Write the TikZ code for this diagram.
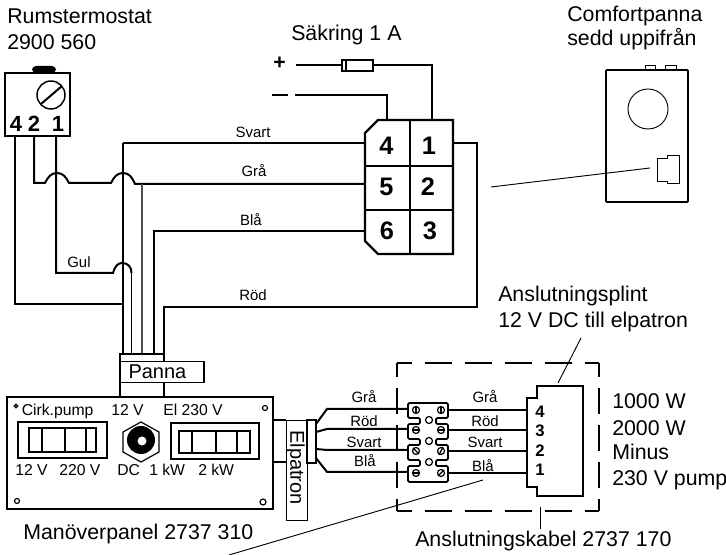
\documentclass[tikz,border=0pt]{standalone}
\usepackage{fontspec}
\setmainfont{Liberation Sans}
\tikzset{
  stor/.style={font=\fontsize{16}{16}\selectfont,anchor=base west,inner sep=0pt},
  liten/.style={font=\fontsize{11.2}{11.2}\selectfont,anchor=base,inner sep=0pt},
  panel/.style={font=\fontsize{11.8}{11.8}\selectfont,anchor=base west,inner sep=0pt},
  siffra/.style={font=\bfseries\fontsize{16.5}{16.5}\selectfont,anchor=base,inner sep=0pt},
  storsiffra/.style={font=\bfseries\fontsize{19}{19}\selectfont,anchor=base,inner sep=0pt},
  litensiffra/.style={font=\bfseries\fontsize{12.5}{12.5}\selectfont,anchor=base,inner sep=0pt},
  ledning/.style={line width=1.5pt,line join=miter},
  tunn/.style={line width=0.9pt},
  pekare/.style={line width=0.7pt},
  streckh/.style={line width=1.9pt,dash pattern=on 20.25pt off 9.75pt,dash phase=9.75pt},
  streckv/.style={line width=1.9pt,dash pattern=on 19.5pt off 8.25pt,dash phase=9pt},
  skruv/.style={line width=0.9pt,fill=white}
}
\begin{document}
\begin{tikzpicture}[x=0.75pt,y=-0.75pt]
  \useasboundingbox (0,0) rectangle (726,555);

  % Rubriker
  \node[stor] (rubrikT) at (7,24) {Rumstermostat};
  \node[stor] (rubrikTnr) at (7,50) {2900 560};
  \node[stor] (rubrikS) at (291,40.5) {Säkring 1 A};
  \node[stor] (rubrikC) at (567,21.5) {Comfortpanna};
  \node[stor] (rubrikCs) at (567,45.5) {sedd uppifrån};
  \node[stor] (rubrikA) at (498,301.5) {Anslutningsplint};
  \node[stor] (rubrikAs) at (498,328) {12 V DC till elpatron};
  \node[stor] (rubrikM) at (23,540) {Manöverpanel 2737 310};
  \node[stor] (rubrikK) at (415,547) {Anslutningskabel 2737 170};
  \node[stor] (eff1) at (612,409) {1000 W};
  \node[stor] (eff2) at (612,436) {2000 W};
  \node[stor] (eff3) at (612,460) {Minus};
  \node[stor] (eff4) at (612,486) {230 V pump};

  % Punkter
  \coordinate (T4) at (15,136);
  \coordinate (T2) at (34,136);
  \coordinate (T1) at (56,136);
  \coordinate (PSvart) at (123,354);
  \coordinate (PGul) at (131.5,354);
  \coordinate (PGra) at (142,354);
  \coordinate (PBla) at (153.5,354);
  \coordinate (PRod) at (164,354);
  \coordinate (K4v) at (365,143);
  \coordinate (K5v) at (365,184);
  \coordinate (K6v) at (365,231);
  \coordinate (K1h) at (453,143);
  \coordinate (K4t) at (387,120);
  \coordinate (K1t) at (432,120);
  \coordinate (Minus) at (295,95);
  \coordinate (Plus) at (296,65);
  \coordinate (SakV) at (342,65);
  \coordinate (SakH) at (373,65);
  \coordinate (Rod) at (477,307);

  % Termostat
  \fill[rounded corners=3] (32,73) -- (32,66) -- (56,66) -- (56,73) -- cycle;
  \draw[ledning] (5,73) rectangle (70,136);
  \draw[line width=1.1pt] (51,95) circle[radius=14];
  \draw[ledning] (41,104) -- (62,86);
  \node[siffra] (t4) at (16,132) {4};
  \node[siffra] (t2) at (34,132) {2};
  \node[siffra] (t1) at (58,132) {1};

  % Ledningar till 4-polig kontakt
  \draw[ledning] (T4) |- (122,304);
  \draw[ledning] (T1) |- (113,273) .. controls (115,266) and (118,263) .. (122,263)
    .. controls (128,263) and (131.5,267) .. (131.5,273);
  \draw[tunn] (131.5,273) -- (PGul);
  \draw[tunn] (PSvart) -- (123,143);
  \draw[ledning] (123,143) -- (K4v);
  \draw[ledning] (T2) |- (45,183) .. controls (48,177) and (51,173) .. (57,173)
    .. controls (63,173) and (66,177) .. (69,183) -- (111,183)
    .. controls (114,177) and (117,173) .. (123,173)
    .. controls (129,173) and (132,177) .. (135,184) -- (K5v);
  \draw[tunn,black!70] (PGra) -- (142,184);
  \draw[ledning] (PBla) |- (K6v);
  \draw[ledning] (PRod) |- (Rod) |- (K1h);

  % Säkring
  \node[font=\bfseries\fontsize{16}{16}\selectfont,inner sep=0pt] (plustecken) at (279.5,63.5) {+};
  \draw[ledning] (272,95) -- (288,95);
  \draw[ledning] (Minus) -| (K4t);
  \draw[ledning] (Plus) -- (SakV);
  \draw[ledning] (SakH) -| (K1t);
  \draw[line width=1.1pt] (342,60) rectangle (373,71);
  \draw[tunn] (346,60) -- (346,71);

  % Kontakt
  \draw[line width=1.6pt] (378,120) -- (453,120) -- (453,254) -- (378,254) -- (365,241) -- (365,133) -- cycle;
  \draw[line width=1.6pt] (410,120) -- (410,254);
  \draw[line width=1.3pt] (365,166) -- (453,166);
  \draw[line width=1.3pt] (365,210) -- (453,210);
  \node[storsiffra] (k4) at (386.5,155) {4};
  \node[storsiffra] (k1) at (429,155) {1};
  \node[storsiffra] (k5) at (386.5,196) {5};
  \node[storsiffra] (k2) at (428,196) {2};
  \node[storsiffra] (k6) at (387,240) {6};
  \node[storsiffra] (k3) at (430,240) {3};
  \node[liten] (svart) at (253,138) {Svart};
  \node[liten] (gra) at (254,177) {Grå};
  \node[liten] (bla) at (251,226) {Blå};
  \node[liten] (rod) at (253,301) {Röd};
  \node[liten] (gul) at (79,268) {Gul};

  % Comfortpanna
  \draw[pekare] (645,70) -- (645,65) -- (655,65) -- (655,70);
  \draw[pekare] (665,70) -- (665,65) -- (676,65) -- (676,70);
  \draw[ledning] (606,70) -- (688,70);
  \draw[ledning] (606,202) -- (688,202);
  \draw[tunn] (606,70) -- (606,202);
  \draw[tunn] (688,70) -- (688,202);
  \draw[pekare] (648,109) circle[radius=20];
  \draw[pekare] (667,155) -- (679,155) -- (679,183) -- (667,183) -- (667,181) -- (657,181) -- (657,158) -- (667,158) -- cycle;
  \coordinate (PekC) at (650,168);
  \coordinate (PekK) at (491,187);
  \draw[pekare] (PekK) -- (PekC);

  % Panna
  \draw[ledning] (120,397) -- (120,354) -- (164,354) -- (164,397);
  \node[draw,fill=white,line width=0.8pt,anchor=north west,inner sep=0pt,minimum height=15.75pt,
    font=\fontsize{15}{15}\selectfont] (panna) at (120,361) {\makebox[62.6pt][l]{\hspace{6pt}Panna}};

  % Manöverpanel
  \draw[line width=1.6pt] (7,397) rectangle (273,509);
  \node[panel] (cirk) at (21.5,416) {Cirk.pump};
  \node[panel] (v12) at (111,416) {12 V};
  \node[panel] (el) at (163,416) {El 230 V};
  \node[panel] (u12) at (15,476) {12 V};
  \node[panel] (u220) at (59,476) {220 V};
  \node[panel] (dc) at (117,476) {DC};
  \node[panel] (kw1) at (149,476) {1 kW};
  \node[panel] (kw2) at (198,476) {2 kW};
  \draw[ledning] (18,422) rectangle (107,458);
  \draw[line width=1.7pt] (29,428) rectangle (96,452);
  \draw[tunn] (42,428) -- (42,452);
  \draw[tunn] (65,428) -- (65,452);
  \draw[tunn] (86,428) -- (86,452);
  \draw[ledning] (171,423) rectangle (259,459);
  \draw[line width=1.7pt] (179,431) rectangle (250,453);
  \draw[tunn] (192,431) -- (192,453);
  \draw[tunn] (216,431) -- (216,453);
  \draw[tunn] (237,431) -- (237,453);
  \draw[tunn] (141,422) -- (159,432) -- (159,452) -- (141,462) -- (123,452) -- (123,432) -- cycle;
  \fill (141,440) circle[radius=14];
  \fill[white] (142,441) circle[radius=4.5];
  \draw[skruv] (265,408) circle[radius=2.5];
  \draw[skruv] (17,501) circle[radius=2.5];
  \draw[skruv] (263,502) circle[radius=3];
  \draw[skruv] (16,406) circle[radius=1.7];

  % Elpatron
  \draw[ledning] (273,420) -- (286,420);
  \draw[ledning] (273,462) -- (286,462);
  \node[draw,line width=0.9pt,anchor=north west,inner sep=0pt,minimum width=15.75pt,minimum height=75pt] (elbox) at (286,420) {};
  \node[rotate=-90,font=\fontsize{15}{15}\selectfont,inner sep=0pt] (elpatron) at (295.5,467.5) {Elpatron};
  \draw[tunn] (307,420) rectangle (316,463);

  % Ledningar till plint
  \coordinate (PL1) at (407,409);
  \coordinate (PL2) at (407,429);
  \coordinate (PL3) at (407,450);
  \coordinate (PL4) at (407,472);
  \coordinate (PH1) at (448,410);
  \coordinate (PH2) at (448,430);
  \coordinate (PH3) at (448,451);
  \coordinate (PH4) at (448,473);
  \coordinate (S4) at (527,410);
  \coordinate (S3) at (527,430);
  \coordinate (S2) at (527,451);
  \coordinate (S1) at (527,473);
  \draw[ledning] (316,424) -- (327,409) -- (PL1);
  \draw[ledning] (316,432) -- (327,429) -- (PL2);
  \draw[ledning] (316,449) -- (327,450) -- (PL3);
  \draw[ledning] (316,458) -- (327,472) -- (PL4);
  \draw[ledning] (PH1) -- (S4);
  \draw[ledning] (PH2) -- (S3);
  \draw[ledning] (PH3) -- (S2);
  \draw[ledning] (PH4) -- (S1);
  \node[liten] (vgra) at (364,403) {Grå};
  \node[liten] (vrod) at (364,427) {Röd};
  \node[liten] (vsvart) at (364,448) {Svart};
  \node[liten] (vbla) at (365,467) {Blå};
  \node[liten] (hgra) at (485,403) {Grå};
  \node[liten] (hrod) at (485,427) {Röd};
  \node[liten] (hsvart) at (485,448) {Svart};
  \node[liten] (hbla) at (483,472) {Blå};

  % Streckad ram
  \draw[streckh] (599,363) -- (397,363);
  \draw[streckh] (599,511) -- (397,511);
  \draw[streckv] (599,363) -- (599,511);
  \draw[streckv] (397,363) -- (397,511);

  % Plint
  \draw[line width=1.3pt,fill=white,rounded corners=1] (408,403) -- (448,403) -- (448,418) -- (436,418) -- (436,424)
    -- (448,424) -- (448,439) -- (436,439) -- (436,445) -- (448,445) -- (448,460) -- (436,460) -- (436,466)
    -- (448,466) -- (448,482) -- (408,482) -- (408,466) -- (420,466) -- (420,460) -- (408,460) -- (408,445)
    -- (420,445) -- (420,439) -- (408,439) -- (408,424) -- (420,424) -- (420,418) -- (408,418) -- cycle;
  \draw[skruv] (416,410) circle[radius=3.5];
  \draw[tunn] (416,406) -- (416,414);
  \draw[skruv] (441,410) circle[radius=3.5];
  \draw[tunn] (441,406) -- (441,414);
  \draw[skruv] (416,430) circle[radius=3.5];
  \draw[ledning] (412,430) -- (420,430);
  \draw[skruv] (441,430) circle[radius=3.5];
  \draw[ledning] (437,430) -- (445,430);
  \draw[skruv] (416,451) circle[radius=3.5];
  \draw[tunn] (413,448) -- (419,454);
  \draw[skruv] (441,451) circle[radius=3.5];
  \draw[tunn] (439,455) -- (443,447);
  \draw[skruv] (416,473) circle[radius=3.5];
  \draw[ledning] (412,473) -- (420,473);
  \draw[skruv] (441,473) circle[radius=3.5];
  \draw[tunn] (438,476) -- (444,470);
  \draw[tunn] (429,420) circle[radius=3.5];
  \draw[tunn] (429,441) circle[radius=3.5];
  \draw[tunn] (429,462) circle[radius=3.5];

  % Anslutningskontakt
  \draw[line width=1.6pt] (537,386) -- (583,386) -- (583,496) -- (537,496) -- (537,487) -- (527,487) -- (527,398) -- (537,398) -- cycle;
  \node[litensiffra] (s4) at (540,418) {4};
  \node[litensiffra] (s3) at (540,437) {3};
  \node[litensiffra] (s2) at (540,457) {2};
  \node[litensiffra] (s1) at (540,476) {1};

  % Pekare
  \coordinate (PekA) at (581,338);
  \coordinate (PekB) at (558,383);
  \coordinate (PekD) at (540,507);
  \coordinate (PekE) at (540,529);
  \coordinate (PekF) at (483,480);
  \coordinate (PekG) at (229,555);
  \draw[pekare] (PekA) -- (PekB);
  \draw[pekare] (PekD) -- (PekE);
  \draw[pekare] (PekF) -- (PekG);
\end{tikzpicture}
\end{document}
